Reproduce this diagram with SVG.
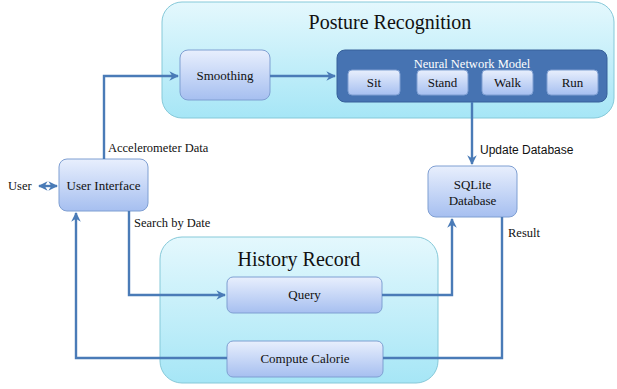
<svg xmlns="http://www.w3.org/2000/svg" width="617" height="389" viewBox="0 0 617 389">
<defs>
<linearGradient id="gOuter" x1="0" y1="0" x2="0" y2="1">
<stop offset="0" stop-color="#e4f8fd"/>
<stop offset="1" stop-color="#a6e6f6"/>
</linearGradient>
<linearGradient id="gInner" x1="0" y1="0" x2="0" y2="1">
<stop offset="0" stop-color="#e8effd"/>
<stop offset="1" stop-color="#a6bff0"/>
</linearGradient>
<marker id="arr" viewBox="0 0 10 10" refX="9" refY="5" markerWidth="4" markerHeight="4" orient="auto-start-reverse" markerUnits="strokeWidth">
<path d="M0,0 L10,5 L0,10 L3,5 Z" fill="#4a7bb7"/>
</marker>
</defs>
<style>
.outer{fill:url(#gOuter);stroke:#86c9d9;stroke-width:1}
.inner{fill:url(#gInner);stroke:#7f9fd2;stroke-width:1}
.nn{fill:#4673b2;stroke:#36609a;stroke-width:1}
text{font-family:'Liberation Serif','Times New Roman','DejaVu Serif',serif}
.title{font-size:20px;fill:#111;text-anchor:middle}
.lbl{font-size:13px;fill:#111;text-anchor:middle}
.sm{font-size:12.5px;fill:#111}
text.sans{font-family:'Liberation Sans',Arial,sans-serif;font-size:12px;fill:#111}
.white{font-size:12.5px;fill:#ffffff;text-anchor:middle}
.conn{fill:none;stroke:#4a7bb7;stroke-width:2.4}
</style>
<g id="posture-recognition">
<rect class="outer" x="162" y="2" width="452" height="116" rx="20"/>
<text class="title" x="390" y="29">Posture Recognition</text>
</g>
<g id="history-record">
<rect class="outer" x="160" y="237" width="278" height="146" rx="22"/>
<text class="title" x="299" y="266">History Record</text>
</g>
<g id="smoothing">
<rect class="inner" x="180" y="50" width="90" height="50" rx="8"/>
<text class="lbl" x="225" y="80">Smoothing</text>
</g>
<g id="neural-network-model">
<rect class="nn" x="337" y="50" width="270" height="52" rx="8"/>
<text class="white" x="472" y="68">Neural Network Model</text>
</g>
<g id="sit">
<rect class="inner" x="348" y="70" width="52" height="25" rx="4"/>
<text class="lbl" x="374" y="87">Sit</text>
</g>
<g id="stand">
<rect class="inner" x="417" y="70" width="51" height="25" rx="4"/>
<text class="lbl" x="442.5" y="87">Stand</text>
</g>
<g id="walk">
<rect class="inner" x="482" y="70" width="51" height="25" rx="4"/>
<text class="lbl" x="507.5" y="87">Walk</text>
</g>
<g id="run">
<rect class="inner" x="547" y="70" width="51" height="25" rx="4"/>
<text class="lbl" x="572.5" y="87">Run</text>
</g>
<g id="user-interface">
<rect class="inner" x="59" y="159" width="89" height="52" rx="8"/>
<text class="lbl" x="103.5" y="190">User Interface</text>
</g>
<g id="user">
<text class="sm" x="8" y="190">User</text>
</g>
<g id="sqlite-database">
<rect class="inner" x="428" y="166" width="89" height="51" rx="8"/>
<text class="lbl" x="472.5" y="189">SQLite</text>
<text class="lbl" x="472.5" y="205">Database</text>
</g>
<g id="query">
<rect class="inner" x="227" y="277" width="155" height="36" rx="6"/>
<text class="lbl" x="304.5" y="299">Query</text>
</g>
<g id="compute-calorie">
<rect class="inner" x="227" y="341" width="156" height="36" rx="6"/>
<text class="lbl" x="305" y="363">Compute Calorie</text>
</g>
<g id="connectors">
<path class="conn" d="M104,159 V76 H178" marker-end="url(#arr)"/>
<path class="conn" d="M270,76 H335" marker-end="url(#arr)"/>
<path class="conn" d="M472,102 V164" marker-end="url(#arr)"/>
<path class="conn" d="M39,186 H57" marker-start="url(#arr)" marker-end="url(#arr)"/>
<path class="conn" d="M129,211 V295 H225" marker-end="url(#arr)"/>
<path class="conn" d="M382,295 H452 V219" marker-end="url(#arr)"/>
<path class="conn" d="M502,217 V358 H383"/>
<path class="conn" d="M227,358 H76 V213" marker-end="url(#arr)"/>
<text class="sm" x="108" y="152">Accelerometer Data</text>
<text class="sm" x="134" y="227">Search by Date</text>
<text class="sans" x="480" y="154">Update Database</text>
<text class="sm" x="508" y="237">Result</text>
</g>
</svg>
